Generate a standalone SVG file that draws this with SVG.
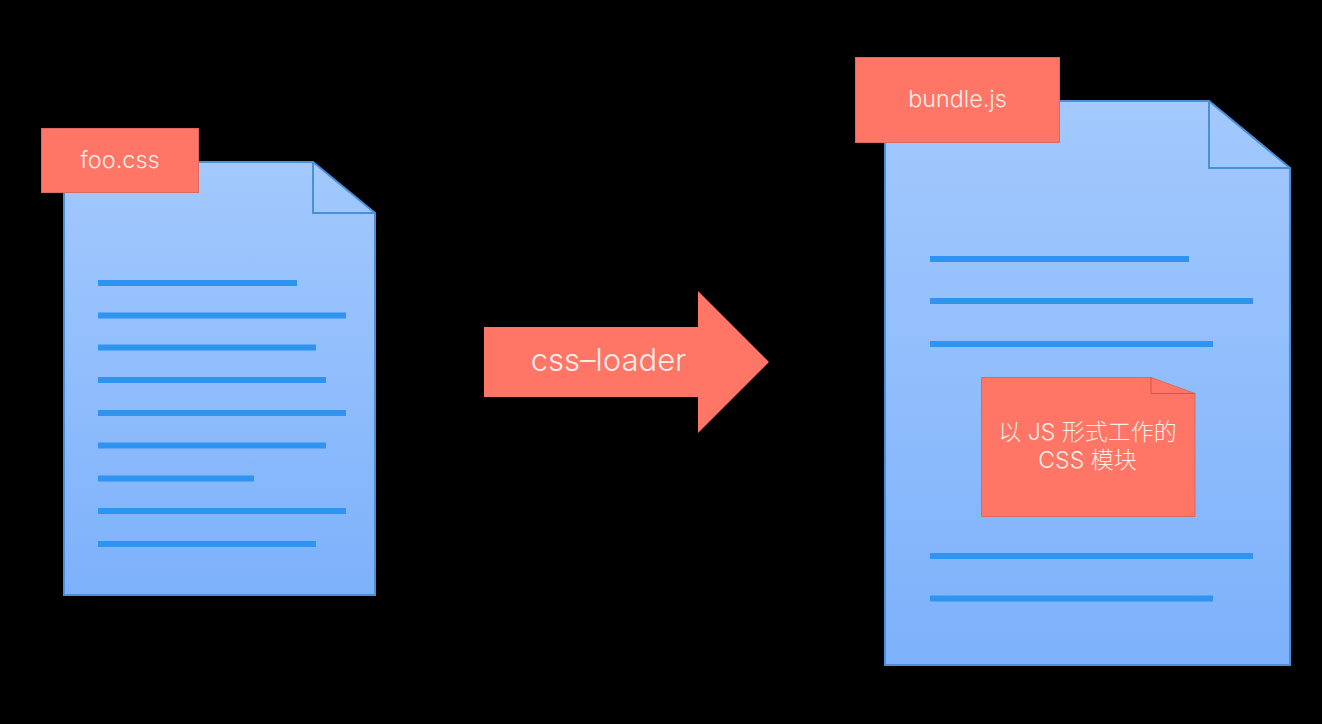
<svg xmlns="http://www.w3.org/2000/svg" width="1322" height="724" viewBox="0 0 1322 724">
<style>
.doc{stroke:#4a90d9;stroke-width:2}
.fold{fill:none;stroke:#4a90d9;stroke-width:2}
.ln{stroke:#2f94f0;stroke-width:6;fill:none}
.tag{fill:#ff7566;stroke:#d96a60;stroke-width:1}
.t{fill:#fdeeea;font-family:"Inter","Liberation Sans","Noto Sans CJK SC",sans-serif;text-anchor:middle;font-weight:300}
</style>
<defs>
<linearGradient id="g" x1="0" y1="0" x2="0" y2="1"><stop offset="0" stop-color="#a3c9fd"/><stop offset="1" stop-color="#7db1fb"/></linearGradient>
</defs>
<rect width="1322" height="724" fill="#000"/>
<g id="foo-doc">
<path class="doc" fill="url(#g)" d="M64 162H313L375 213V595H64Z"/>
<path class="fold" d="M313 162V213H375"/>
<path class="ln" d="M98 283H297M98 315.500H346M98 347.500H316M98 380H326M98 413H346M98 445.500H326M98 478.500H254M98 511H346M98 544H316"/>
</g>
<g id="foo-tag">
<rect class="tag" x="41.500" y="128.500" width="157" height="64"/>
<text class="t" x="120" y="168" font-size="23.500">foo.css</text>
</g>
<g id="arrow">
<path fill="#ff7566" d="M484 327H698V291L769 362L698 433V397H484Z"/>
<text class="t" x="608.500" y="371" font-size="31">css–loader</text>
</g>
<g id="bundle-doc">
<path class="doc" fill="url(#g)" d="M885 101H1209L1290 168V665H885Z"/>
<path class="fold" d="M1209 101V168H1290"/>
<path class="ln" d="M930 259H1189M930 301H1253M930 344H1213M930 556H1253M930 598.500H1213"/>
</g>
<g id="bundle-tag">
<rect class="tag" x="855.500" y="57.500" width="204" height="85"/>
<text class="t" x="957.500" y="107" font-size="23.300">bundle.js</text>
</g>
<g id="css-module">
<path class="tag" d="M981.500 377.500H1151L1195 393.500V516.500H981.500Z"/>
<path fill="none" stroke="#c8594e" stroke-width="1" d="M1151 377.500V393.500H1195"/>
<text class="t" x="1087.500" y="440" font-size="23">以 JS 形式工作的</text>
<text class="t" x="1087.500" y="468" font-size="23">CSS 模块</text>
</g>
</svg>
